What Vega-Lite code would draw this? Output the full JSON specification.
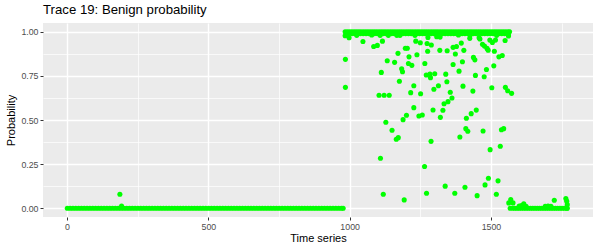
{
  "$schema": "https://vega.github.io/schema/vega-lite/v6.json",
  "autosize": {"type": "none"},
  "padding": {"left": 43, "top": 23, "right": 6, "bottom": 28},
  "width": 550,
  "height": 194,
  "background": "white",
  "title": {"text": "Trace 19: Benign probability", "anchor": "start", "frame": "group", "font": "Liberation Sans", "fontSize": 13.2, "fontWeight": "normal", "color": "black", "baseline": "alphabetic", "offset": 8, "dy": 12},
  "config": {
    "view": {"fill": "#EBEBEB", "stroke": null},
    "axis": {"domain": false, "gridColor": "white", "tickColor": "#333333", "tickSize": 3, "tickWidth": 1, "labelColor": "#4D4D4D", "labelFontSize": 8.8, "labelFont": "Liberation Sans", "titleFont": "Liberation Sans", "titleFontSize": 11, "titleFontWeight": "normal", "titleColor": "black", "labelPadding": 2}
  },
  "data": {"values": [
    {"t":1,"p":0},{"t":11,"p":0},{"t":21,"p":0},{"t":31,"p":0},{"t":41,"p":0},{"t":51,"p":0},{"t":61,"p":0},{"t":71,"p":0},{"t":81,"p":0},{"t":91,"p":0},
    {"t":101,"p":0},{"t":111,"p":0},{"t":121,"p":0},{"t":131,"p":0},{"t":141,"p":0},{"t":151,"p":0},{"t":161,"p":0},{"t":171,"p":0},{"t":181,"p":0},{"t":191,"p":0},
    {"t":201,"p":0},{"t":211,"p":0},{"t":221,"p":0},{"t":231,"p":0},{"t":241,"p":0},{"t":251,"p":0},{"t":261,"p":0},{"t":271,"p":0},{"t":281,"p":0},{"t":291,"p":0},
    {"t":301,"p":0},{"t":311,"p":0},{"t":321,"p":0},{"t":331,"p":0},{"t":341,"p":0},{"t":351,"p":0},{"t":361,"p":0},{"t":371,"p":0},{"t":381,"p":0},{"t":391,"p":0},
    {"t":401,"p":0},{"t":411,"p":0},{"t":421,"p":0},{"t":431,"p":0},{"t":441,"p":0},{"t":451,"p":0},{"t":461,"p":0},{"t":471,"p":0},{"t":481,"p":0},{"t":491,"p":0},
    {"t":501,"p":0},{"t":511,"p":0},{"t":521,"p":0},{"t":531,"p":0},{"t":541,"p":0},{"t":551,"p":0},{"t":561,"p":0},{"t":571,"p":0},{"t":581,"p":0},{"t":591,"p":0},
    {"t":601,"p":0},{"t":611,"p":0},{"t":621,"p":0},{"t":631,"p":0},{"t":641,"p":0},{"t":651,"p":0},{"t":661,"p":0},{"t":671,"p":0},{"t":681,"p":0},{"t":691,"p":0},
    {"t":701,"p":0},{"t":711,"p":0},{"t":721,"p":0},{"t":731,"p":0},{"t":741,"p":0},{"t":751,"p":0},{"t":761,"p":0},{"t":771,"p":0},{"t":781,"p":0},{"t":791,"p":0},
    {"t":801,"p":0},{"t":811,"p":0},{"t":821,"p":0},{"t":831,"p":0},{"t":841,"p":0},{"t":851,"p":0},{"t":861,"p":0},{"t":871,"p":0},{"t":881,"p":0},{"t":891,"p":0},
    {"t":901,"p":0},{"t":911,"p":0},{"t":921,"p":0},{"t":931,"p":0},{"t":941,"p":0},{"t":951,"p":0},{"t":961,"p":0},{"t":971,"p":0},{"t":977,"p":0},
    {"t":187,"p":0.079},{"t":193,"p":0.012},
    {"t":984,"p":1},{"t":992,"p":1},{"t":1000,"p":1},{"t":1008,"p":1},{"t":1016,"p":1},{"t":1024,"p":1},{"t":1032,"p":1},{"t":1040,"p":1},{"t":1048,"p":1},{"t":1056,"p":1},
    {"t":1064,"p":1},{"t":1072,"p":1},{"t":1080,"p":1},{"t":1088,"p":1},{"t":1096,"p":1},{"t":1104,"p":1},{"t":1112,"p":1},{"t":1120,"p":1},{"t":1128,"p":1},{"t":1136,"p":1},
    {"t":1144,"p":1},{"t":1152,"p":1},{"t":1160,"p":1},{"t":1168,"p":1},{"t":1176,"p":1},{"t":1184,"p":1},{"t":1192,"p":1},{"t":1200,"p":1},{"t":1208,"p":1},{"t":1216,"p":1},
    {"t":1224,"p":1},{"t":1232,"p":1},{"t":1240,"p":1},{"t":1248,"p":1},{"t":1256,"p":1},{"t":1264,"p":1},{"t":1272,"p":1},{"t":1280,"p":1},{"t":1288,"p":1},{"t":1296,"p":1},
    {"t":1304,"p":1},{"t":1312,"p":1},{"t":1320,"p":1},{"t":1328,"p":1},{"t":1336,"p":1},{"t":1344,"p":1},{"t":1352,"p":1},{"t":1360,"p":1},{"t":1368,"p":1},{"t":1376,"p":1},
    {"t":1384,"p":1},{"t":1392,"p":1},{"t":1400,"p":1},{"t":1408,"p":1},{"t":1416,"p":1},{"t":1424,"p":1},{"t":1432,"p":1},{"t":1440,"p":1},{"t":1448,"p":1},{"t":1456,"p":1},
    {"t":1464,"p":1},{"t":1472,"p":1},{"t":1480,"p":1},{"t":1488,"p":1},{"t":1496,"p":1},{"t":1504,"p":1},{"t":1512,"p":1},{"t":1520,"p":1},{"t":1528,"p":1},{"t":1536,"p":1},
    {"t":1544,"p":1},{"t":1552,"p":1},{"t":1560,"p":1},{"t":1566,"p":1},
    {"t":988,"p":0.99},{"t":998,"p":0.99},{"t":1008,"p":0.99},{"t":1018,"p":0.99},{"t":1028,"p":0.99},{"t":1038,"p":0.99},{"t":1048,"p":0.99},{"t":1058,"p":0.99},{"t":1068,"p":0.99},{"t":1078,"p":0.99},
    {"t":1088,"p":0.99},{"t":1098,"p":0.99},{"t":1108,"p":0.99},{"t":1118,"p":0.99},{"t":1128,"p":0.99},{"t":1138,"p":0.99},{"t":1148,"p":0.99},{"t":1158,"p":0.99},{"t":1168,"p":0.99},{"t":1178,"p":0.99},
    {"t":1188,"p":0.99},{"t":1198,"p":0.99},{"t":1208,"p":0.99},{"t":1218,"p":0.99},{"t":1228,"p":0.99},{"t":1238,"p":0.99},{"t":1248,"p":0.99},{"t":1258,"p":0.99},{"t":1268,"p":0.99},{"t":1278,"p":0.99},
    {"t":1288,"p":0.99},{"t":1298,"p":0.99},{"t":1308,"p":0.99},{"t":1318,"p":0.99},{"t":1328,"p":0.99},{"t":1338,"p":0.99},{"t":1348,"p":0.99},{"t":1358,"p":0.99},{"t":1368,"p":0.99},{"t":1378,"p":0.99},
    {"t":1388,"p":0.99},{"t":1398,"p":0.99},{"t":1408,"p":0.99},{"t":1418,"p":0.99},{"t":1428,"p":0.99},{"t":1438,"p":0.99},{"t":1448,"p":0.99},{"t":1458,"p":0.99},{"t":1468,"p":0.99},{"t":1478,"p":0.99},
    {"t":1488,"p":0.99},{"t":1498,"p":0.99},{"t":1508,"p":0.99},{"t":1518,"p":0.99},{"t":1528,"p":0.99},{"t":1538,"p":0.99},{"t":1548,"p":0.99},{"t":1558,"p":0.99},
    {"t":984,"p":0.978},{"t":1025,"p":0.98},{"t":1078,"p":0.982},{"t":1108,"p":0.98},{"t":1137,"p":0.98},{"t":1167,"p":0.98},{"t":1178,"p":0.98},{"t":1231,"p":0.98},{"t":1385,"p":0.982},{"t":1426,"p":0.981},
    {"t":1520,"p":0.98},{"t":1562,"p":0.982},{"t":1308,"p":0.972},{"t":1320,"p":0.97},
    {"t":985,"p":0.844},{"t":985,"p":0.685},{"t":998,"p":0.966},{"t":1047,"p":0.945},{"t":1085,"p":0.917},{"t":1098,"p":0.923},{"t":1116,"p":0.947},{"t":1112,"p":0.77},{"t":1133,"p":0.836},{"t":1159,"p":0.827},
    {"t":1171,"p":0.878},{"t":1176,"p":0.72},{"t":1104,"p":0.64},{"t":1122,"p":0.64},{"t":1140,"p":0.64},{"t":1184,"p":0.79},{"t":1187,"p":0.774},{"t":1197,"p":0.907},{"t":1204,"p":0.907},{"t":1210,"p":0.858},
    {"t":1208,"p":0.82},{"t":1220,"p":0.81},{"t":1216,"p":0.655},{"t":1227,"p":0.694},{"t":1238,"p":0.87},{"t":1234,"p":0.947},{"t":1250,"p":0.938},{"t":1251,"p":0.649},{"t":1266,"p":0.82},{"t":1274,"p":0.934},
    {"t":1289,"p":0.925},{"t":1277,"p":0.968},{"t":1276,"p":0.89},{"t":1271,"p":0.755},{"t":1286,"p":0.74},{"t":1284,"p":0.76},{"t":1301,"p":0.762},{"t":1298,"p":0.674},{"t":1314,"p":0.694},{"t":1319,"p":0.895},
    {"t":1345,"p":0.893},{"t":1340,"p":0.76},{"t":1344,"p":0.717},{"t":1356,"p":0.657},{"t":1362,"p":0.625},{"t":1348,"p":0.604},{"t":1334,"p":0.592},{"t":1366,"p":0.912},{"t":1378,"p":0.917},{"t":1374,"p":0.874},
    {"t":1366,"p":0.815},{"t":1387,"p":0.777},{"t":1395,"p":0.936},{"t":1404,"p":0.895},{"t":1399,"p":0.83},{"t":1401,"p":0.692},{"t":1425,"p":0.963},{"t":1438,"p":0.855},{"t":1443,"p":0.841},{"t":1436,"p":0.664},
    {"t":1445,"p":0.753},{"t":1458,"p":0.966},{"t":1461,"p":0.959},{"t":1470,"p":0.929},{"t":1477,"p":0.919},{"t":1486,"p":0.906},{"t":1490,"p":0.896},{"t":1496,"p":0.953},{"t":1505,"p":0.94},{"t":1516,"p":0.953},
    {"t":1476,"p":0.745},{"t":1484,"p":0.786},{"t":1510,"p":0.807},{"t":1512,"p":0.89},{"t":1503,"p":0.683},{"t":1528,"p":0.858},{"t":1540,"p":0.866},{"t":1550,"p":0.951},{"t":1562,"p":0.976},{"t":1551,"p":0.685},
    {"t":1559,"p":0.666},{"t":1573,"p":0.651},{"t":1227,"p":0.57},{"t":1295,"p":0.557},{"t":1330,"p":0.555},{"t":1201,"p":0.527},{"t":1245,"p":0.523},{"t":1257,"p":0.528},{"t":1321,"p":0.515},{"t":1448,"p":0.556},
    {"t":1430,"p":0.536},{"t":1413,"p":0.51},{"t":1128,"p":0.487},{"t":1150,"p":0.442},{"t":1165,"p":0.391},{"t":1172,"p":0.4},{"t":1109,"p":0.283},{"t":1119,"p":0.079},{"t":1189,"p":0.502},{"t":1288,"p":0.379},
    {"t":1390,"p":0.404},{"t":1265,"p":0.236},{"t":1338,"p":0.125},{"t":1272,"p":0.085},{"t":1372,"p":0.085},{"t":1193,"p":0.047},{"t":1411,"p":0.451},{"t":1418,"p":0.436},{"t":1472,"p":0.438},{"t":1537,"p":0.445},
    {"t":1545,"p":0.451},{"t":1497,"p":0.332},{"t":1533,"p":0.351},{"t":1491,"p":0.17},{"t":1525,"p":0.155},{"t":1479,"p":0.132},{"t":1408,"p":0.119},{"t":1451,"p":0.071},{"t":1519,"p":0.079},
    {"t":1563,"p":0.03},{"t":1570,"p":0.049},{"t":1578,"p":0.03},
    {"t":1568,"p":0},{"t":1576,"p":0},{"t":1584,"p":0},{"t":1592,"p":0},{"t":1600,"p":0},{"t":1608,"p":0},{"t":1616,"p":0},{"t":1624,"p":0},{"t":1632,"p":0},{"t":1640,"p":0},
    {"t":1648,"p":0},{"t":1656,"p":0},{"t":1664,"p":0},{"t":1672,"p":0},{"t":1680,"p":0},{"t":1688,"p":0},{"t":1696,"p":0},{"t":1704,"p":0},{"t":1712,"p":0},{"t":1720,"p":0},
    {"t":1728,"p":0},{"t":1736,"p":0},{"t":1744,"p":0},{"t":1752,"p":0},{"t":1760,"p":0},{"t":1768,"p":0},{"t":1770,"p":0},
    {"t":1600,"p":0.012},{"t":1608,"p":0.015},{"t":1616,"p":0.025},{"t":1624,"p":0.01},{"t":1692,"p":0.01},{"t":1702,"p":0.012},{"t":1712,"p":0.01},{"t":1724,"p":0.045},{"t":1765,"p":0.055},{"t":1768,"p":0.04},{"t":1770,"p":0.02}
  ]},
  "mark": {"type": "point", "filled": true, "size": 26, "opacity": 1, "color": "#00FF00"},
  "encoding": {
    "x": {"field": "t", "type": "quantitative", "scale": {"domain": [-85, 1861], "nice": false, "zero": false},
      "axis": {"title": "Time series", "titlePadding": 2, "format": "d", "values": [0, 250, 500, 750, 1000, 1250, 1500, 1750],
        "labelExpr": "datum.value % 500 === 0 ? datum.label : ''",
        "gridWidth": {"condition": {"test": "datum.value % 500 === 0", "value": 1.4}, "value": 0.7},
        "tickOpacity": {"condition": {"test": "datum.value % 500 === 0", "value": 1}, "value": 0}}},
    "y": {"field": "p", "type": "quantitative", "scale": {"domain": [-0.05, 1.05], "nice": false, "zero": false},
      "axis": {"title": "Probability", "titlePadding": 4, "values": [0, 0.125, 0.25, 0.375, 0.5, 0.625, 0.75, 0.875, 1],
        "labelExpr": "round(datum.value*8) % 2 === 0 ? format(datum.value, '.2f') : ''",
        "gridWidth": {"condition": {"test": "round(datum.value*8) % 2 === 0", "value": 1.4}, "value": 0.7},
        "tickOpacity": {"condition": {"test": "round(datum.value*8) % 2 === 0", "value": 1}, "value": 0}}}
  }
}
